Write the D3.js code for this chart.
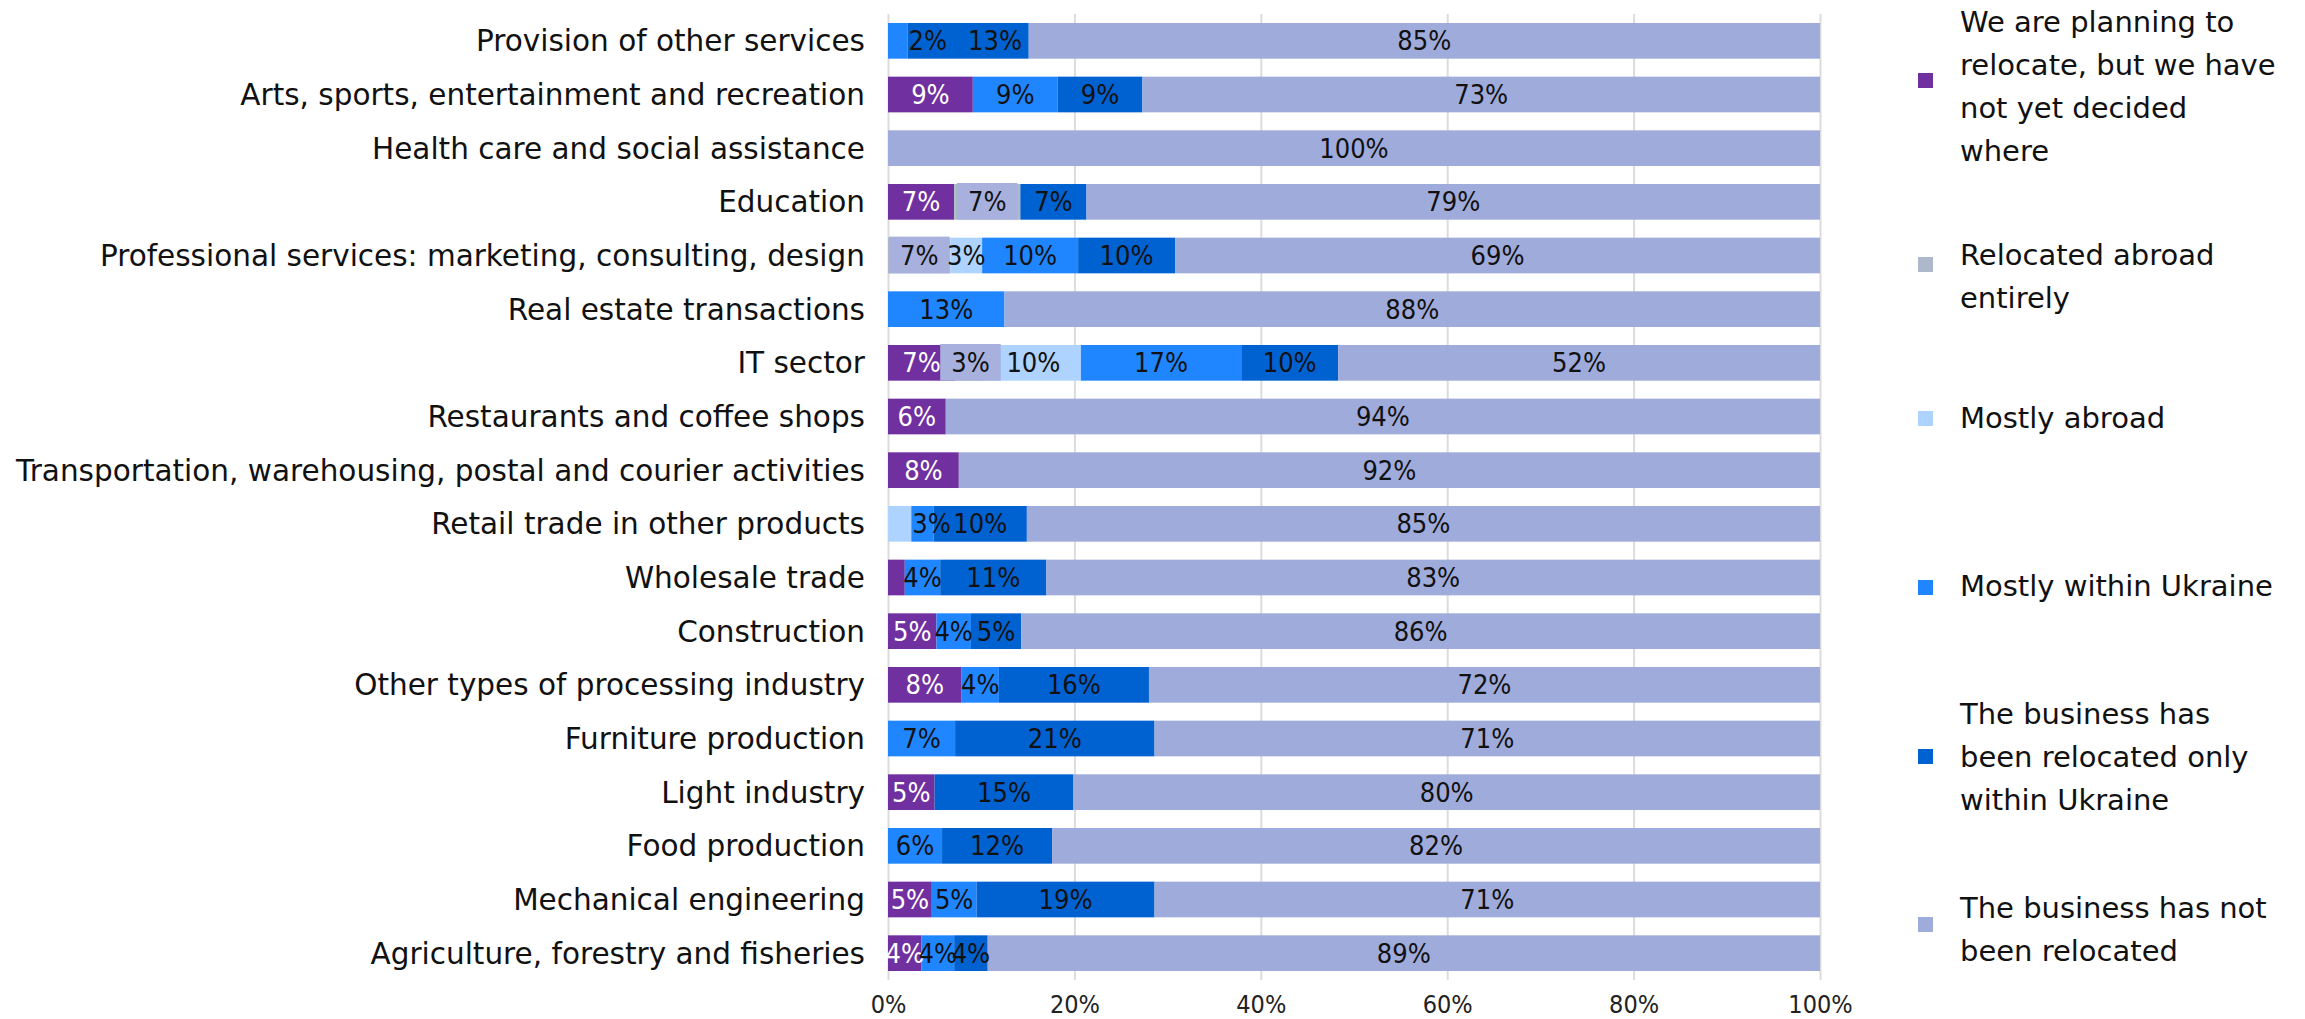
<!DOCTYPE html>
<html>
<head>
<meta charset="utf-8">
<script src="https://cdn.jsdelivr.net/npm/d3@7/dist/d3.min.js"></script>
<style>
  html, body { margin: 0; padding: 0; background: #ffffff; }
  svg { display: block; }
</style>
</head>
<body>
<svg id="chart" width="2305" height="1019"></svg>
<script>
// ---------------- DATA ----------------
const categories = [
  "Provision of other services",
  "Arts, sports, entertainment and recreation",
  "Health care and social assistance",
  "Education",
  "Professional services: marketing, consulting, design",
  "Real estate transactions",
  "IT sector",
  "Restaurants and coffee shops",
  "Transportation, warehousing, postal and courier activities",
  "Retail trade in other products",
  "Wholesale trade",
  "Construction",
  "Other types of processing industry",
  "Furniture production",
  "Light industry",
  "Food production",
  "Mechanical engineering",
  "Agriculture, forestry and fisheries"
];

const seriesKeys = ["planning", "abroadEntirely", "mostlyAbroad", "mostlyUkraine", "onlyUkraine", "notRelocated"];

const seriesLabels = [
  ["We are planning to", "relocate, but we have", "not yet decided", "where"],
  ["Relocated abroad", "entirely"],
  ["Mostly abroad"],
  ["Mostly within Ukraine"],
  ["The business has", "been relocated only", "within Ukraine"],
  ["The business has not", "been relocated"]
];

const planning       = [0, 9.1, 0, 7.1, 0, 0, 7.2, 6.2, 7.6, 0, 1.8, 5.2, 7.9, 0, 5.0, 0, 4.7, 3.6];
const abroadEntirely = [0, 0, 0, 7.1, 6.7, 0, 3.3, 0, 0, 0, 0, 0, 0, 0, 0, 0, 0, 0];
const mostlyAbroad   = [0, 0, 0, 0, 3.4, 0, 10.2, 0, 0, 2.5, 0, 0, 0, 0, 0, 0, 0, 0];
const mostlyUkraine  = [2.1, 9.1, 0, 0, 10.3, 12.5, 17.2, 0, 0, 2.4, 3.8, 3.7, 4.0, 7.2, 0, 5.8, 4.8, 3.5];
const onlyUkraine    = [13.0, 9.1, 0, 7.1, 10.4, 0, 10.4, 0, 0, 10.0, 11.4, 5.4, 16.1, 21.4, 14.9, 11.8, 19.1, 3.6];
const notRelocated   = [84.9, 72.7, 100, 78.7, 69.2, 87.5, 51.7, 93.8, 92.4, 85.1, 83.0, 85.7, 72.0, 71.4, 80.1, 82.4, 71.4, 89.3];

const xTicks = [0, 20, 40, 60, 80, 100];

// ---------------- STYLE / LAYOUT ----------------
const colors = ["#7030A0", "#ADB9CA", "#AED3FF", "#1F86FF", "#0062D1", "#9FABDB"];
const labelColors = ["#ffffff", "#111111", "#111111", "#111111", "#111111", "#111111"];
const boxedSeries = 1;            // series whose value labels sit on a box
const boxFill = "#A8B1DD";

const plot = { left: 888, right: 1820, top: 14, bottom: 980 };
const textFont = "'DejaVu Sans', sans-serif";
const numFont = "'DejaVu Sans Condensed', 'DejaVu Sans', sans-serif";
const numSize = 27;

// legend layout: square centre y and first-line baseline for each item
const legendSquareY = [80.5, 264.5, 418.5, 587.5, 756.5, 924.5];
const legendFirstBaseline = [32.3, 265, 427.7, 595.7, 724, 918.3];
const legendLineHeight = 42.9;

// ---------------- BUILD ----------------
const table = categories.map((c, i) => ({
  category: c,
  planning: planning[i],
  abroadEntirely: abroadEntirely[i],
  mostlyAbroad: mostlyAbroad[i],
  mostlyUkraine: mostlyUkraine[i],
  onlyUkraine: onlyUkraine[i],
  notRelocated: notRelocated[i]
}));

const svg = d3.select("#chart");

const x = d3.scaleLinear().domain([0, 100]).range([plot.left, plot.right]);
const y = d3.scaleBand().domain(categories).range([plot.top, plot.bottom])
  .paddingInner(0.335).paddingOuter(0.1675);

// gridlines
const grid = svg.append("g")
  .attr("transform", `translate(0,${plot.bottom})`)
  .call(d3.axisBottom(x).tickValues(xTicks).tickSize(-(plot.bottom - plot.top)).tickFormat(""));
grid.select(".domain").remove();
grid.selectAll("line").attr("stroke", "#dcdcdc").attr("stroke-width", 2);

// x tick labels
const xAxis = svg.append("g")
  .attr("transform", `translate(0,${plot.bottom})`)
  .call(d3.axisBottom(x).tickValues(xTicks).tickSize(0).tickFormat(d => d + "%"));
xAxis.select(".domain").remove();
xAxis.selectAll("text")
  .attr("y", 33)
  .attr("dy", 0)
  .attr("font-family", numFont)
  .attr("font-size", 25)
  .attr("fill", "#222");

// stacked bars
const stack = d3.stack().keys(seriesKeys)(table);

const layers = svg.append("g").selectAll("g")
  .data(stack).join("g")
  .attr("fill", (d, i) => colors[i]);

layers.selectAll("rect")
  .data(d => d)
  .join("rect")
  .attr("x", d => x(d[0]))
  .attr("y", d => y(d.data.category))
  .attr("width", d => Math.max(0, x(d[1]) - x(d[0])))
  .attr("height", y.bandwidth());

// value labels
const labelG = svg.append("g");
const measure = svg.append("text")
  .attr("font-family", numFont).attr("font-size", numSize).attr("visibility", "hidden");

categories.forEach((cat, ci) => {
  let prev = null;
  const yTop = y(cat), yMid = yTop + y.bandwidth() / 2;
  stack.forEach((layer, si) => {
    const seg = layer[ci];
    const v = seg.data[layer.key];
    if (v < 2) return;
    const txt = Math.round(v) + "%";
    measure.text(txt);
    const w = measure.node().getComputedTextLength();
    const x0 = x(seg[0]), x1 = x(seg[1]);
    let left = (x0 + x1) / 2 - w / 2;
    let pushed = false;
    if (left < plot.left - 4) { left = x1 + 1; pushed = true; }
    if (prev && prev.pushed && left < prev.right) {
      left = prev.right + 21;
      pushed = true;
      if (left + w > x1) return;
    }
    if (si === boxedSeries) {
      labelG.append("rect")
        .attr("x", left - 11).attr("y", yTop - 1)
        .attr("width", w + 22).attr("height", y.bandwidth() + 1)
        .attr("fill", boxFill);
    }
    labelG.append("text")
      .attr("x", left).attr("y", yMid + 9.5)
      .attr("font-family", numFont).attr("font-size", numSize)
      .attr("fill", labelColors[si])
      .text(txt);
    prev = { right: left + w, pushed };
  });
});
measure.remove();

// category labels
const yAxis = svg.append("g")
  .attr("transform", `translate(${plot.left - 23},0)`)
  .call(d3.axisLeft(y).tickSize(0).tickPadding(0));
yAxis.select(".domain").remove();
yAxis.selectAll("text")
  .attr("font-family", textFont)
  .attr("font-size", 29.5)
  .attr("fill", "#111")
  .attr("dy", "0.36em");

// legend
const legend = svg.append("g");
seriesLabels.forEach((lines, i) => {
  legend.append("rect")
    .attr("x", 1918).attr("y", legendSquareY[i] - 7.5)
    .attr("width", 15).attr("height", 15)
    .attr("fill", colors[i]);
  const t = legend.append("text")
    .attr("font-family", textFont).attr("font-size", 29).attr("fill", "#111");
  lines.forEach((ln, k) => {
    t.append("tspan").attr("x", 1960)
      .attr("y", legendFirstBaseline[i] + k * legendLineHeight)
      .text(ln);
  });
});
</script>
</body>
</html>
